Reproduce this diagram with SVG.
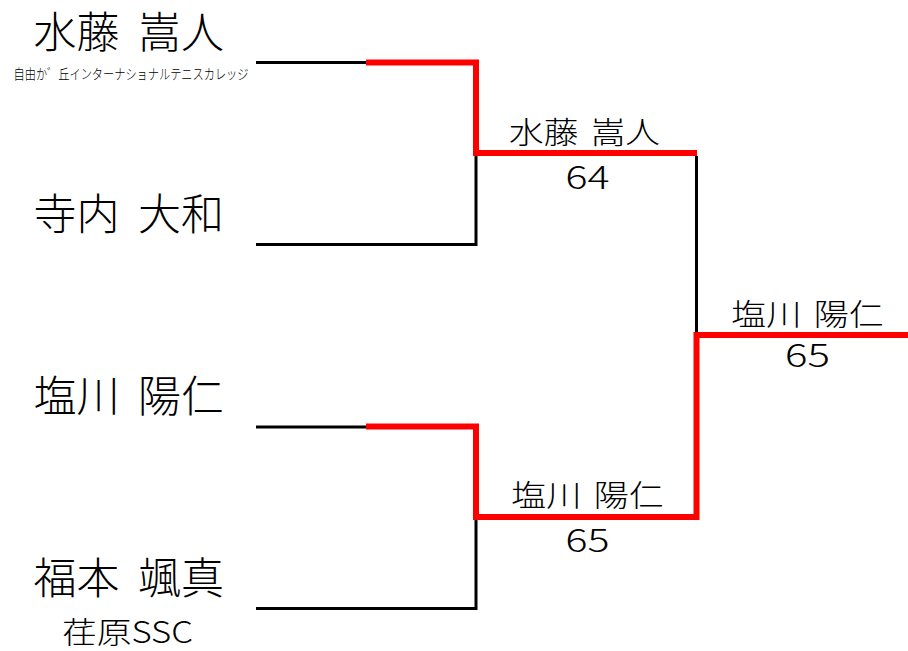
<svg xmlns="http://www.w3.org/2000/svg" width="908" height="651" viewBox="0 0 908 651">
<style>
text{font-family:"Noto Sans CJK JP","Noto Sans",sans-serif;fill:#000;font-weight:300;}
.big{font-size:43px;word-spacing:9px;}
.mid{font-size:30px;word-spacing:4px;}
.num{font-size:32px;}
.blk{fill:none;stroke:#000;stroke-width:3;stroke-linejoin:miter;stroke-linecap:butt;}
.red{fill:none;stroke:#ff0000;stroke-width:6;stroke-linejoin:miter;stroke-linecap:butt;}
</style>
<rect width="908" height="651" fill="#fff"/>
<g id="connectors">
<path class="blk" d="M256,62.5H366"/>
<path class="blk" d="M476,156V244.5H256"/>
<path class="blk" d="M256,427H366"/>
<path class="blk" d="M476,520V608.5H256"/>
<path class="blk" d="M696.5,156V335"/>
<path class="red" d="M366,62.5H476V153H697"/>
<path class="red" d="M366,426.5H476V517H696.5V335H908"/>
</g>
<g id="p1">
<text class="big" x="33.5" y="47.5">水藤 嵩人</text>
<text x="13.5" y="79" font-size="14" font-weight="400" textLength="235" lengthAdjust="spacingAndGlyphs">自由か゛丘インターナショナルテニスカレッジ</text>
</g>
<g id="p2">
<text class="big" x="33.5" y="230">寺内 大和</text>
</g>
<g id="p3">
<text class="big" x="33.5" y="412">塩川 陽仁</text>
</g>
<g id="p4">
<text class="big" x="33.5" y="594">福本 颯真</text>
<text x="62" y="643" font-size="30" textLength="131" lengthAdjust="spacingAndGlyphs">荏原SSC</text>
</g>
<g id="w1">
<text class="mid" x="509" y="143" textLength="151" lengthAdjust="spacingAndGlyphs">水藤 嵩人</text>
<text class="num" x="565.5" y="188.5" textLength="44" lengthAdjust="spacingAndGlyphs">64</text>
</g>
<g id="w2">
<text class="mid" x="511" y="506" textLength="153" lengthAdjust="spacingAndGlyphs">塩川 陽仁</text>
<text class="num" x="565.5" y="551.5" textLength="44" lengthAdjust="spacingAndGlyphs">65</text>
</g>
<g id="champion">
<text class="mid" x="731" y="325" textLength="153" lengthAdjust="spacingAndGlyphs">塩川 陽仁</text>
<text class="num" x="785" y="367" textLength="45" lengthAdjust="spacingAndGlyphs">65</text>
</g>
</svg>
